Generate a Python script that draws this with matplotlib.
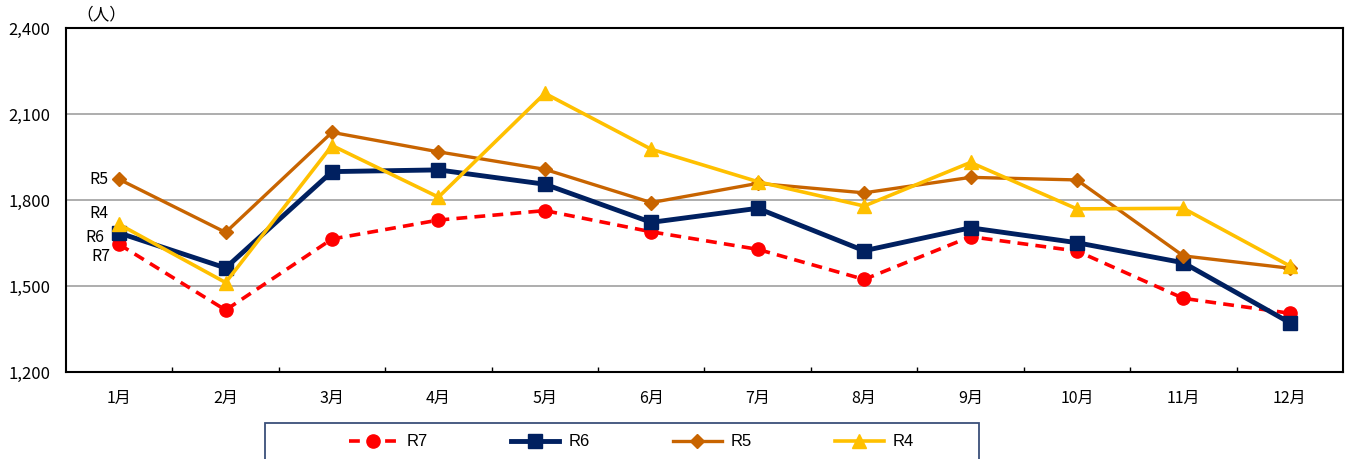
import numpy as np
import matplotlib.pyplot as plt
from matplotlib.ticker import FuncFormatter, FixedLocator
from matplotlib.patches import Rectangle

plt.rcParams['font.family'] = ['Noto Sans CJK JP', 'DejaVu Sans']

months = ["1月", "2月", "3月", "4月", "5月", "6月", "7月", "8月", "9月", "10月", "11月", "12月"]
r7 = [1645, 1416, 1664, 1730, 1763, 1689, 1628, 1523, 1672, 1622, 1457, 1405]
r6 = [1685, 1563, 1899, 1905, 1855, 1722, 1771, 1623, 1703, 1651, 1581, 1372]
r5 = [1872, 1687, 2036, 1968, 1907, 1791, 1858, 1825, 1879, 1870, 1605, 1562]
r4 = [1715, 1512, 1990, 1810, 2172, 1977, 1864, 1779, 1931, 1769, 1771, 1570]

fig = plt.figure(figsize=(13.51, 4.59), dpi=100)
ax = fig.add_axes([66/1351, 1-372/459, (1343-66)/1351, (372-28)/459])

x = np.arange(1, 13)
l7, = ax.plot(x, r7, color='#ff0000', lw=2.6, ls=(0, (3, 2)), marker='o', ms=9.5, label='R7', zorder=3)
l6, = ax.plot(x, r6, color='#002060', lw=3.5, marker='s', ms=9.5, label='R6', zorder=4)
l5, = ax.plot(x, r5, color='#c86400', lw=2.4, marker='D', ms=7, label='R5', zorder=5)
l4, = ax.plot(x, r4, color='#ffc000', lw=2.6, marker='^', ms=10, label='R4', zorder=6)

ax.set_xlim(0.5, 12.5)
ax.set_ylim(1200, 2400)
ax.set_yticks([1200, 1500, 1800, 2100, 2400])
ax.yaxis.set_major_formatter(FuncFormatter(lambda v, p: f"{int(v):,}"))
ax.grid(axis='y', color='#a0a0a0', lw=1.2)
ax.set_axisbelow(True)

ax.set_xticks(x)
ax.set_xticklabels(months, fontsize=11.5)
ax.xaxis.set_minor_locator(FixedLocator(np.arange(1.5, 12.5, 1)))
ax.tick_params(axis='x', which='major', length=0, pad=13)
ax.tick_params(axis='x', which='minor', length=3.6, direction='in', width=1)
ax.tick_params(axis='y', length=0, pad=11.5, labelsize=12)
for s in ax.spines.values():
    s.set_linewidth(1.5)
    s.set_color('black')

fig.text(101/1351, 1-15/459, "（人）", fontsize=12, ha='center', va='center')

# series labels at the left side
for name, val, dx, dy in [("R5", r5[0], -7.4, 0), ("R4", r4[0], -8, 8),
                          ("R6", r6[0], -11, -3), ("R7", r7[0], -6.5, -8.6)]:
    ax.annotate(name, (1, val), xytext=(dx, dy), textcoords='offset points',
                ha='right', va='center', fontsize=11.5)

# legend box
fig.patches.append(Rectangle((265/1351, -0.05), (979-265)/1351, 0.05 + 1-423/459,
                             transform=fig.transFigure, fill=False, ec='#3a4f7a', lw=1.3))
fig.legend(handles=[l7, l6, l5, l4], loc='center left', bbox_to_anchor=(349/1351, 1-442/459),
           ncol=4, frameon=False, prop={'family': 'Liberation Sans', 'size': 12},
           handlelength=2.9, columnspacing=5.0, handletextpad=0.55,
           borderpad=0, borderaxespad=0)

fig.savefig('out.png', dpi=100)
